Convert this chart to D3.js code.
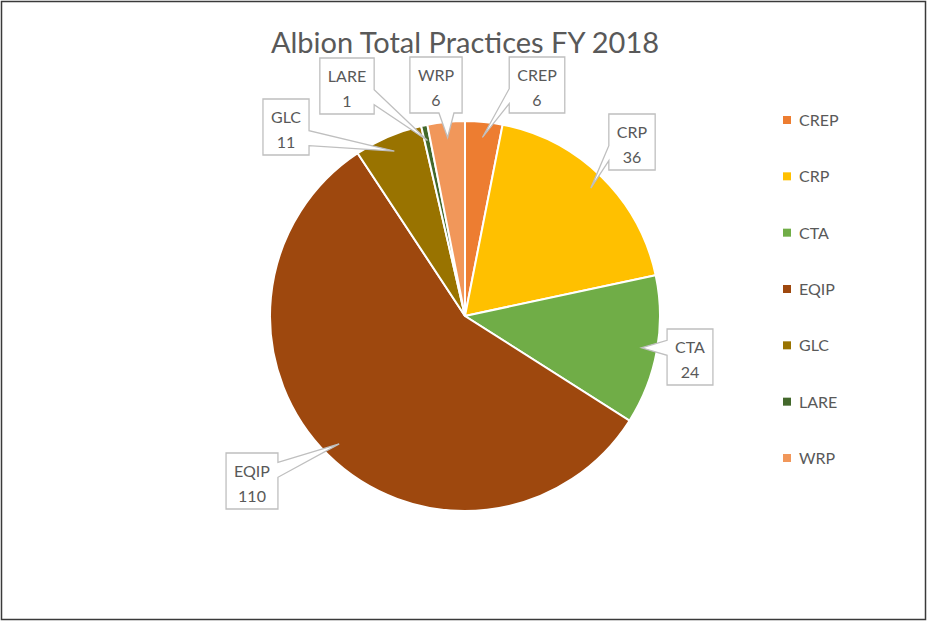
<!DOCTYPE html>
<html>
<head>
<meta charset="utf-8">
<script src="https://cdn.jsdelivr.net/npm/d3@7"></script>
<style>
  body { margin: 0; background: #fff; }
  text { font-family: Lato, "Open Sans", sans-serif; fill: #595959; }
</style>
</head>
<body>
<svg id="chart" width="927" height="622"></svg>
<script>
"use strict";
// chart data
const categories = ['CREP', 'CRP', 'CTA', 'EQIP', 'GLC', 'LARE', 'WRP'];
const practices = [6, 36, 24, 110, 11, 1, 6];
const sliceColors = ['#ED7D31', '#FFC000', '#70AD47', '#9E480E', '#997300', '#43682B', '#F1975A'];
const chartTitle = 'Albion Total Practices FY 2018';

// where each callout box sits, relative to the pie centre (moved by hand in the original)
const labelOffsets = [[72, -231], [167, -174], [225, 41], [-213, 165], [-179, -189], [-118, -230], [-29, -231]];

const svg = d3.select('#chart');
const width = +svg.attr('width');
const height = +svg.attr('height');

// outer frame
svg.append('rect')
    .attr('x', 1.5).attr('y', 1.5)
    .attr('width', width - 3).attr('height', height - 4)
    .attr('fill', '#fff')
    .attr('stroke', '#3a3a3a')
    .attr('stroke-width', 1.5);

svg.append('text')
    .attr('x', 465)
    .attr('y', 53)
    .attr('text-anchor', 'middle')
    .attr('font-size', '29px')
    .text(chartTitle);

const cx = 465, cy = 316, radius = 195;
const data = categories.map((c, i) => ({ name: c, value: practices[i], color: sliceColors[i], offset: labelOffsets[i] }));

const pie = d3.pie().sort(null).value(d => d.value);
const arc = d3.arc().innerRadius(0).outerRadius(radius);
const tipArc = d3.arc().innerRadius(radius * 0.92).outerRadius(radius * 0.92);

const g = svg.append('g').attr('transform', `translate(${cx},${cy})`);
const arcs = pie(data);

g.selectAll('path.slice')
    .data(arcs)
    .enter()
    .append('path')
    .attr('class', 'slice')
    .attr('d', arc)
    .attr('fill', d => d.data.color)
    .attr('stroke', '#fff')
    .attr('stroke-width', 2);

// callout shape: a box with a wedge pointing at the slice
function calloutPath(x0, y0, w, h, tx, ty) {
    const x1 = x0 + w, y1 = y0 + h, half = 7.5;
    const clamp = (v, lo, hi) => Math.max(lo, Math.min(hi, v));
    if (tx < x0 || tx > x1) {
        const c = clamp(ty, y0 + 0.3 * h, y1 - 0.3 * h);
        const b1 = c - half, b2 = c + half;
        if (tx < x0)
            return `M${x0},${y0}L${x1},${y0}L${x1},${y1}L${x0},${y1}L${x0},${b2}L${tx},${ty}L${x0},${b1}Z`;
        return `M${x0},${y0}L${x1},${y0}L${x1},${b1}L${tx},${ty}L${x1},${b2}L${x1},${y1}L${x0},${y1}Z`;
    }
    const c = clamp(tx, x0 + 0.3 * w, x1 - 0.3 * w);
    const c1 = c - half, c2 = c + half;
    if (ty > y1)
        return `M${x0},${y0}L${x1},${y0}L${x1},${y1}L${c2},${y1}L${tx},${ty}L${c1},${y1}L${x0},${y1}Z`;
    return `M${x0},${y0}L${c1},${y0}L${tx},${ty}L${c2},${y0}L${x1},${y0}L${x1},${y1}L${x0},${y1}Z`;
}

const labels = g.selectAll('g.label')
    .data(arcs)
    .enter()
    .append('g')
    .attr('class', 'label');

labels.each(function (d) {
    const lg = d3.select(this);
    const [ox, oy] = d.data.offset;
    const shape = lg.append('path');
    const t1 = lg.append('text')
        .attr('x', ox).attr('y', oy - 4)
        .attr('text-anchor', 'middle')
        .attr('font-size', '16px')
        .text(d.data.name);
    lg.append('text')
        .attr('x', ox).attr('y', oy + 21)
        .attr('text-anchor', 'middle')
        .attr('font-size', '16px')
        .text(d.data.value);
    const w = t1.node().getComputedTextLength() + 16;
    const h = 56;
    const [tx, ty] = tipArc.centroid(d);
    shape.attr('d', calloutPath(ox - w / 2, oy - h / 2, w, h, tx, ty))
        .attr('fill', '#fff')
        .attr('stroke', '#bfbfbf')
        .attr('stroke-width', 1.3);
});

// legend
const legendY = d3.scalePoint().domain(categories).range([120, 458]);
const legend = svg.selectAll('g.legend')
    .data(data)
    .enter()
    .append('g')
    .attr('class', 'legend')
    .attr('transform', d => `translate(783,${legendY(d.name)})`);
legend.append('rect')
    .attr('x', 0).attr('y', -4)
    .attr('width', 8).attr('height', 8)
    .attr('fill', d => d.color);
legend.append('text')
    .attr('x', 16).attr('y', 6)
    .attr('font-size', '16px')
    .text(d => d.name);
</script>
</body>
</html>
